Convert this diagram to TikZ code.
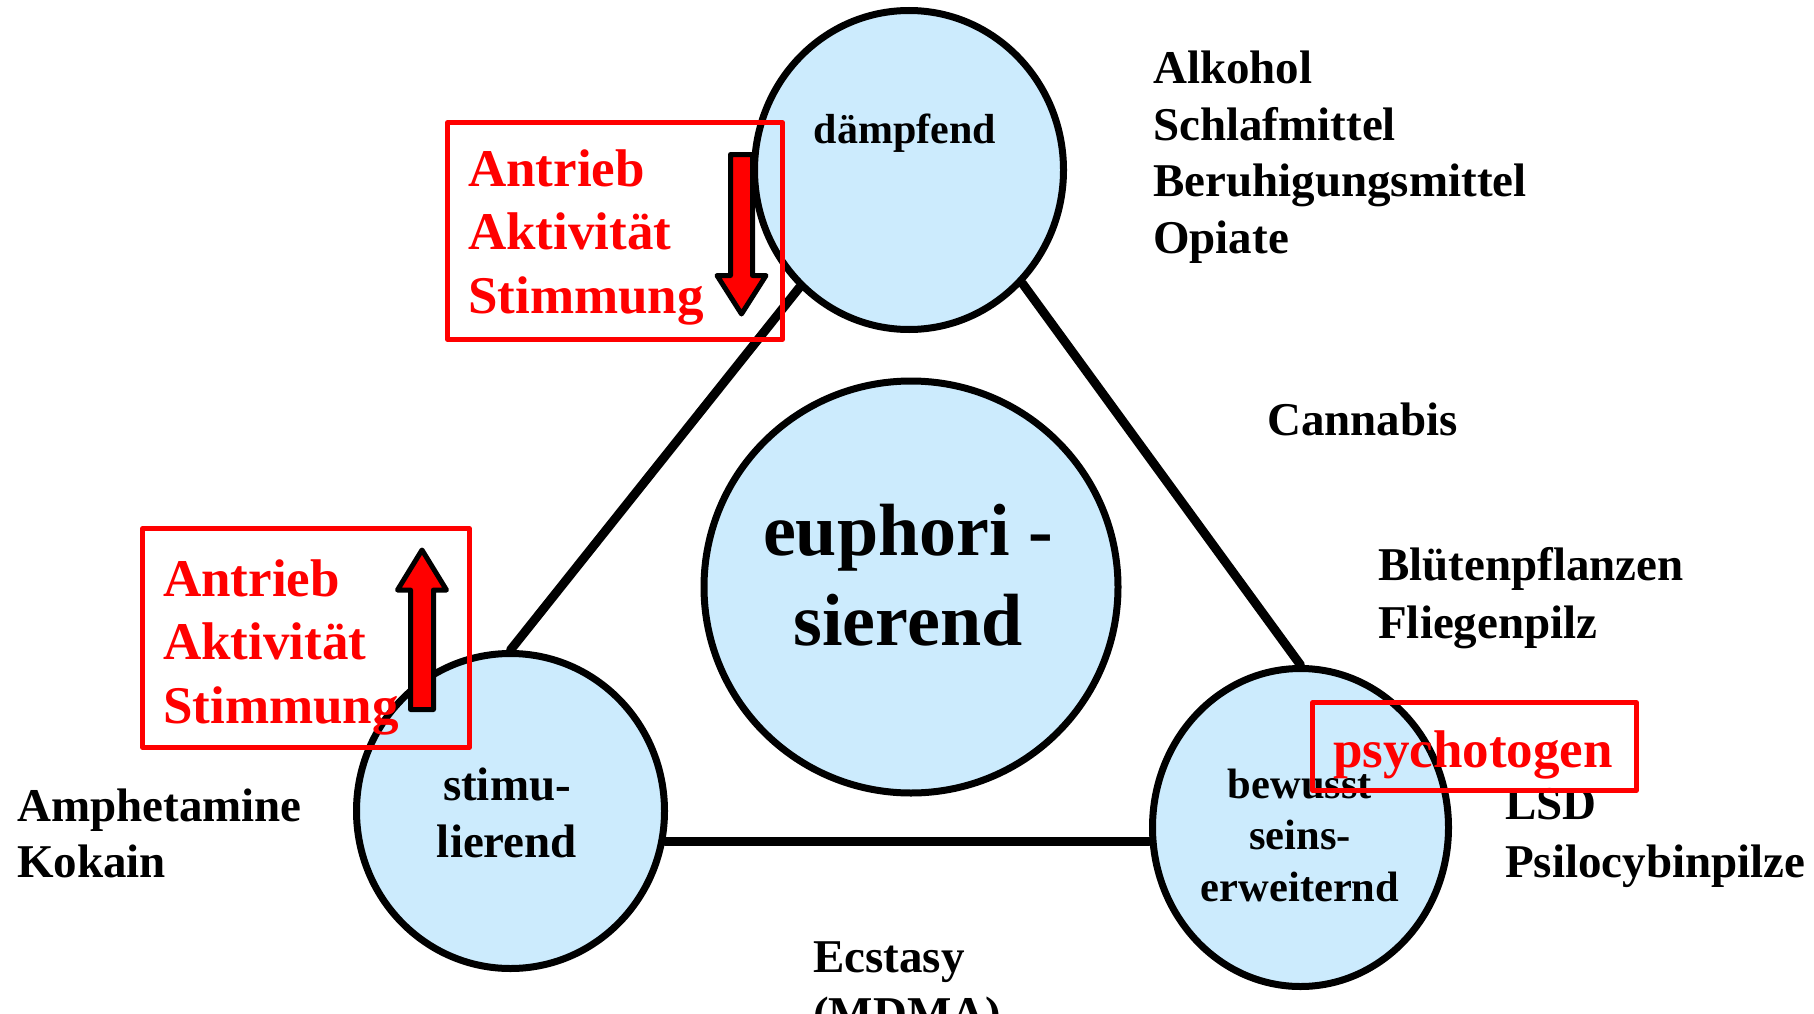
\documentclass[tikz,border=0pt]{standalone}
\usepackage{fontspec}
\setmainfont{Liberation Serif}
\usetikzlibrary{shapes.geometric}

\definecolor{bubble}{RGB}{204,235,253}

\tikzset{
  phase/.style = {ellipse, draw = black, line width = 7pt, fill = bubble, inner sep = 0pt},
  link/.style = {line width = 9pt, line cap = round},
  drug/.style = {font = \bfseries\fontsize{47}{56.5}\selectfont, align = left, anchor = base west, inner sep = 0pt},
  hint/.style = {text = red, font = \bfseries\fontsize{53}{63.5}\selectfont, align = left, anchor = base west, inner sep = 0pt},
  redbox/.style = {draw = red, line width = 4.5pt, line join = round},
  blockarrow/.style = {draw = black, fill = red, line width = 5pt, line join = round}
}

\begin{document}
\begin{tikzpicture}[x = 1pt, y = -1pt]
      \useasboundingbox (0, 0) rectangle (1814, 1014);

      \node[phase, minimum width = 309, minimum height = 319] (daempf) at (909, 170) {};
      \node[phase, minimum width = 414, minimum height = 412] (euph) at (911, 587) {};
      \node[phase, minimum width = 308, minimum height = 315] (stim) at (510.5, 811) {};
      \node[phase, minimum width = 296, minimum height = 318] (bewusst) at (1300.5, 827.5) {};

      \draw[link] (daempf.227) -- (stim.north);
      \draw[link] (daempf.315) -- (bewusst.north);
      \draw[link] (stim.349) -- (stim.349 -| bewusst.west);

      % multi-line nodes sit on the baseline of their last line
      \node[font = \bfseries\fontsize{42}{50}\selectfont, anchor = base, inner sep = 0pt] (daempf-t) at (905, 143) {dämpfend};
      \node[font = \bfseries\fontsize{74}{90}\selectfont, align = center, anchor = base, inner sep = 0pt] (euph-t) at (908, 645) {euphori -\\sierend};
      \node[font = \bfseries\fontsize{47}{57}\selectfont, align = center, anchor = base, inner sep = 0pt] (stim-t) at (507, 857) {stimu-\\lierend};
      \node[font = \bfseries\fontsize{42.5}{51.5}\selectfont, align = center, anchor = base, inner sep = 0pt] (bewusst-t) at (1300, 901) {bewusst\\seins-\\erweiternd};

      \node[drug] (alkohol) at (1153, 253) {Alkohol\\Schlafmittel\\Beruhigungsmittel\\Opiate};
      \node[drug] (cannabis) at (1267, 435) {Cannabis};
      \node[drug, font = \bfseries\fontsize{47}{58}\selectfont] (blueten) at (1378, 638) {Blütenpflanzen\\Fliegenpilz};
      \node[drug, font = \bfseries\fontsize{47}{58}\selectfont] (lsd) at (1505, 877) {LSD\\Psilocybinpilze};
      \node[drug, font = \bfseries\fontsize{47}{56}\selectfont] (amph) at (17, 877) {Amphetamine\\Kokain};
      \node[drug, font = \bfseries\fontsize{47}{57}\selectfont] (ecstasy) at (813, 1029) {Ecstasy\\(MDMA)};

      % red notes: drive down / up
      \draw[redbox] (447.5, 122.5) rectangle (782.5, 339.5);
      \node[hint] (down-t) at (468, 313) {Antrieb\\Aktivität\\Stimmung};
      \draw[blockarrow] (730.5, 154.5) -- (752.5, 154.5) -- (752.5, 275.5) -- (766, 275.5)
        -- (741.5, 314) -- (717, 275.5) -- (730.5, 275.5) -- cycle;

      \draw[redbox] (142.5, 528.5) rectangle (469.5, 747.5);
      \node[hint] (up-t) at (163, 723) {Antrieb\\Aktivität\\Stimmung};
      \draw[blockarrow] (410.5, 709.5) -- (433.5, 709.5) -- (433.5, 590) -- (446.5, 590)
        -- (422, 550) -- (397.5, 590) -- (410.5, 590) -- cycle;

      \draw[redbox] (1312.5, 702.5) rectangle (1636.5, 790.5);
      \node[hint, anchor = base] (psycho) at (1473, 767) {psychotogen};
\end{tikzpicture}
\end{document}
